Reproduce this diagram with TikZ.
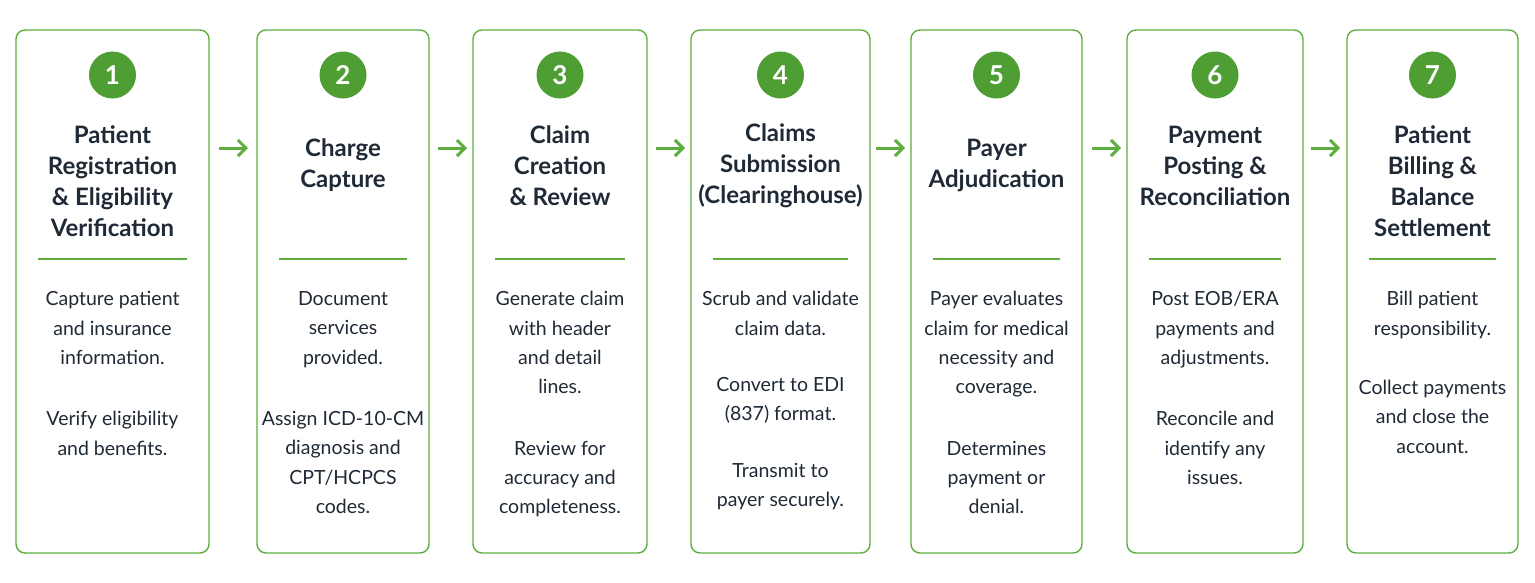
\documentclass[tikz,border=0pt]{standalone}
\usetikzlibrary{arrows.meta}
\usepackage{fontspec}
\setmainfont{Lato}
\definecolor{grn}{HTML}{5DAE3F}
\definecolor{dgrn}{HTML}{4F9E33}
\definecolor{txt}{HTML}{1F2A36}
\begin{document}
\begin{tikzpicture}[x=1pt,y=-1pt,
 card/.style={draw=grn,line width=1.4pt,rounded corners=9pt},
 num/.style={circle,fill=dgrn,minimum size=47pt,inner sep=0pt,text=white,font=\bfseries\fontsize{26}{26}\selectfont},
 ttl/.style={align=center,text=txt,font=\bfseries\fontsize{24}{31}\selectfont},
 bdy/.style={align=center,text=txt,font=\fontsize{19.5}{29.3}\selectfont,anchor=north},
 sep/.style={draw=grn,line width=2pt},
 arr/.style={draw=grn,line width=3pt,-{Straight Barb[length=8pt,width=16pt]}}]
\useasboundingbox (0,0) rectangle (1535,582);
\fill[white] (0,0) rectangle (1535,582);
\def\cards{16/209/1,257/429/2,473/647/3,691/870/4,911/1082/5,1127/1303/6,1347/1518/7}
\foreach \a/\b/\n in \cards{
  \draw[card] (\a,30) rectangle (\b,553);
  \node[num] (n\n) at ({(\a+\b)/2},75) {\n};
  \draw[sep] ({\a+22},259) -- ({\b-22},259);
  \coordinate (c\n) at ({(\a+\b)/2},0);
}
\node[ttl] (t1) at (c1|-0,181) {Patient\\Registration\\\& Eligibility\\Verification};
\node[ttl] (t2) at (c2|-0,165) {Charge\\Capture};
\node[ttl] (t3) at (c3|-0,166) {Claim\\Creation\\\& Review};
\node[ttl] (t4) at (c4|-0,166) {Claims\\Submission\\(Clearinghouse)};
\node[ttl] (t5) at (c5|-0,165) {Payer\\Adjudication};
\node[ttl] (t6) at (c6|-0,166) {Payment\\Posting \&\\Reconciliation};
\node[ttl] (t7) at (c7|-0,181) {Patient\\Billing \&\\Balance\\Settlement};
\node[bdy] (b1) at (c1|-0,288) {Capture patient\\and insurance\\information.\\[32pt]Verify eligibility\\and benefits.};
\node[bdy] (b2) at (c2|-0,288) {Document\\services\\provided.\\[32pt]Assign ICD-10-CM\\diagnosis and\\CPT/HCPCS\\codes.};
\node[bdy] (b3) at (c3|-0,288) {Generate claim\\with header\\and detail\\lines.\\[32pt]Review for\\accuracy and\\completeness.};
\node[bdy] (b4) at (c4|-0,288) {Scrub and validate\\claim data.\\[27pt]Convert to EDI\\(837) format.\\[27pt]Transmit to\\payer securely.};
\node[bdy] (b5) at (c5|-0,288) {Payer evaluates\\claim for medical\\necessity and\\coverage.\\[32pt]Determines\\payment or\\denial.};
\node[bdy] (b6) at (c6|-0,288) {Post EOB/ERA\\payments and\\adjustments.\\[32pt]Reconcile and\\identify any\\issues.};
\node[bdy] (b7) at (c7|-0,288) {Bill patient\\responsibility.\\[30pt]Collect payments\\and close the\\account.};
\foreach \p/\x in {1/219,2/438,3/656,4/876,5/1092,6/1311}{
  \coordinate (s\p) at (\x,148); \coordinate (e\p) at (\x+29,148);
  \draw[arr] (s\p) -- (e\p);
}
\end{tikzpicture}
\end{document}
